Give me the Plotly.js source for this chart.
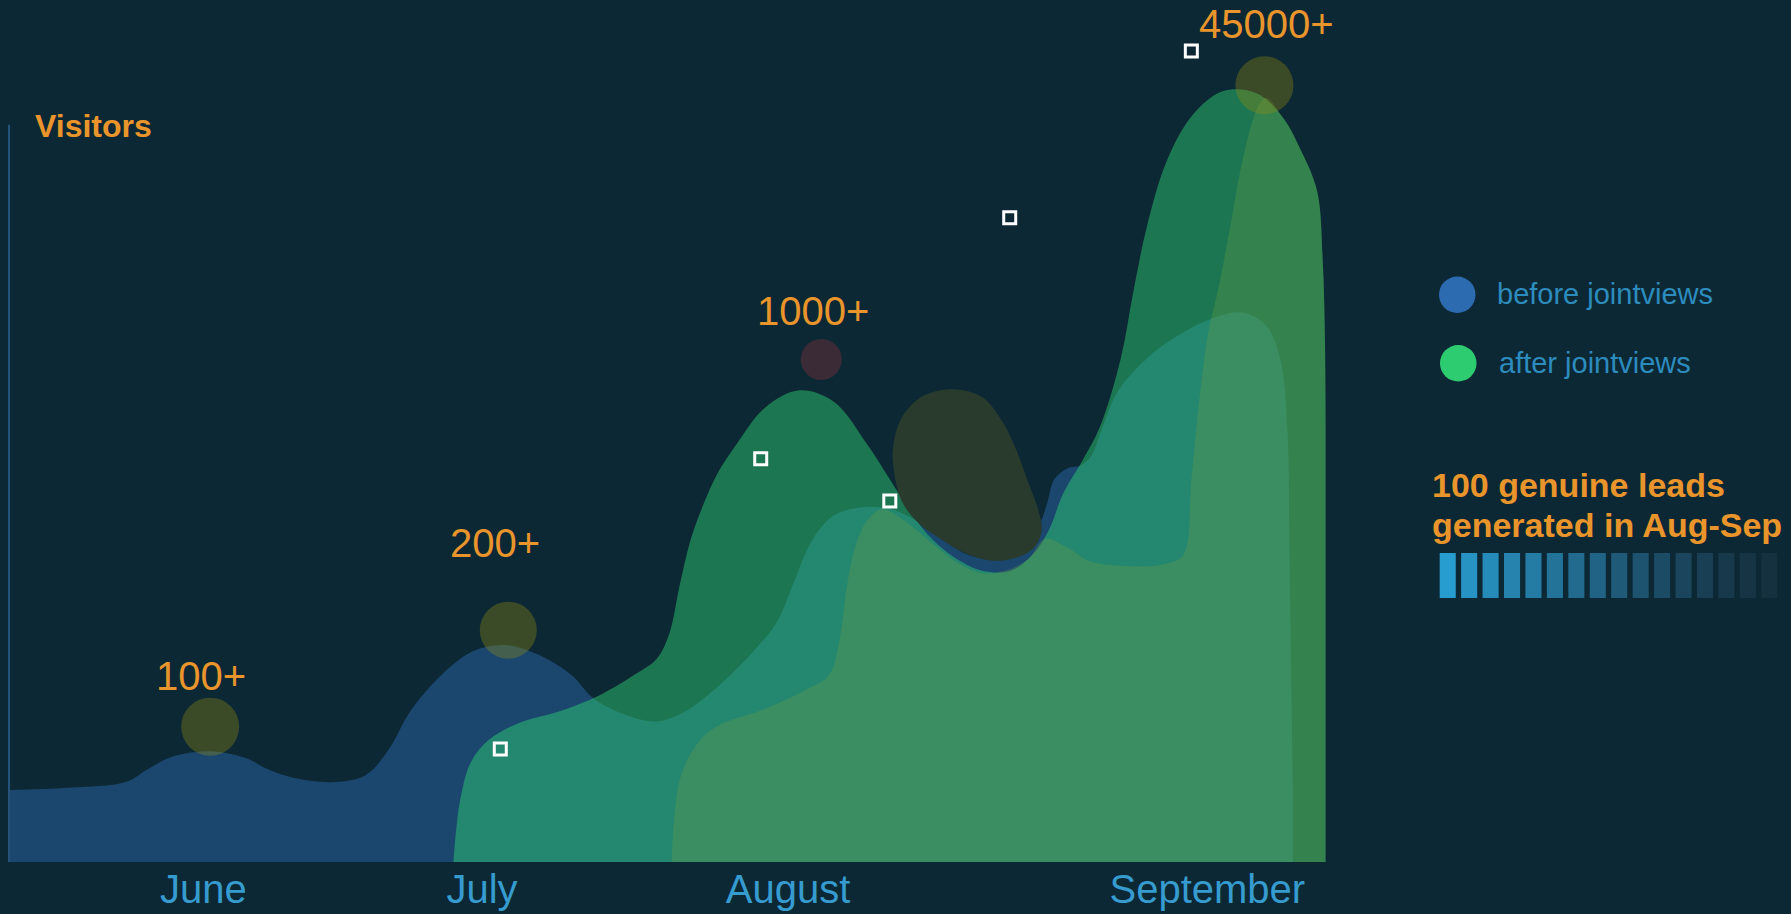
<!DOCTYPE html>
<html>
<head>
<meta charset="utf-8">
<script src="https://cdn.plot.ly/plotly-3.0.1.min.js"></script>
<style>
  html, body { margin: 0; padding: 0; background: #0c2834; }
  #chart { width: 1791px; height: 914px; }
</style>
</head>
<body>
<div id="chart"></div>
<script>
// ---------------- DATA (x = timeline units ~ days, y = relative visitor index) ----------------
const monthLabels = ['June', 'July', 'August', 'September'];
const monthTickX = [17.8, 42.2, 69.0, 105.7];

// "before jointviews" area
const beforeX = [0.7, 6.0, 11.0, 12.9, 15.0, 18.4, 21.5, 23.5, 26.0, 29.3, 32.0, 34.0, 36.0, 39.1, 41.5, 44.2, 47.0, 50.0, 52.0, 55.0, 57.5, 60.0, 63.0, 66.0, 68.0, 69.5, 71.0, 72.8, 75.0, 78.0, 81.0, 84.5, 86.5, 88.5, 90.0, 91.0, 91.7, 92.3, 93.5, 94.6, 95.5, 96.5, 97.8, 100.0, 102.2, 105.9, 108.8, 110.9, 112.1, 112.7, 112.9, 113.2];
const beforeY = [6.3, 6.5, 7.0, 8.1, 9.2, 9.7, 9.1, 8.1, 7.3, 7.0, 7.6, 9.8, 13.3, 16.8, 18.5, 19.0, 18.2, 16.4, 14.3, 12.8, 12.3, 13.2, 15.5, 18.5, 21.0, 24.5, 28.0, 30.2, 31.0, 30.9, 29.4, 27.0, 26.6, 26.9, 28.0, 29.5, 31.5, 33.5, 34.5, 34.7, 35.5, 38.0, 41.1, 43.7, 45.5, 47.5, 48.1, 46.9, 44.0, 38.1, 26.5, 5.5];

// "after jointviews" area
const afterX = [39.7, 39.9, 40.3, 41.2, 42.8, 45.5, 49.0, 52.5, 55.4, 57.5, 58.6, 59.5, 60.4, 61.3, 62.8, 64.5, 67.0, 70.0, 73.0, 75.9, 77.9, 79.5, 81.2, 83.5, 86.0, 88.5, 90.5, 91.8, 93.1, 94.8, 96.3, 98.1, 99.2, 100.4, 102.2, 104.5, 107.1, 110.0, 112.3, 113.8, 115.3, 115.8, 116.0, 116.05];
const afterY = [0, 2.5, 5.5, 8.7, 10.7, 12.2, 13.2, 14.6, 16.3, 17.8, 20.0, 24.2, 28.0, 30.6, 34.0, 36.6, 39.8, 41.3, 40.3, 36.6, 33.5, 31.0, 28.7, 26.7, 25.5, 25.5, 27.0, 29.0, 32.3, 35.2, 38.1, 44.0, 49.8, 55.6, 61.5, 65.5, 67.5, 67.3, 65.2, 62.5, 58.8, 52.7, 45.5, 38.0];

// lighter overlay area (Aug-Sep growth)
const overlayX = [58.8, 59.0, 59.6, 61.0, 62.8, 66.7, 70.6, 72.6, 73.5, 74.2, 75.0, 76.0, 77.2, 79.0, 81.5, 84.0, 86.0, 88.0, 90.0, 91.5, 93.5, 95.5, 99.0, 102.0, 103.6, 104.3, 105.0, 105.8, 106.6, 107.7, 108.8, 110.0, 110.8, 112.3, 113.8, 115.3, 115.8, 116.0, 116.05];
const overlayY = [0, 3.5, 7.5, 10.3, 11.9, 13.3, 15.1, 16.4, 19.5, 24.5, 28.0, 30.0, 30.9, 30.0, 28.0, 26.1, 25.3, 25.5, 26.5, 28.3, 27.5, 26.3, 25.9, 26.1, 26.9, 33.5, 40.5, 46.5, 49.9, 55.6, 61.5, 65.8, 66.9, 65.2, 62.5, 58.8, 52.7, 45.5, 38.0];

// dark dip blob between August and September
const dipX = [83.4, 86.0, 87.8, 89.0, 90.0, 90.9, 91.2, 90.5, 88.8, 86.7, 84.6, 82.5, 80.5, 79.0, 78.3, 78.2, 79.0, 80.8, 83.4];
const dipY = [41.4, 40.7, 38.5, 36.0, 33.3, 30.8, 29.0, 27.5, 26.6, 26.4, 27.0, 28.2, 29.6, 31.5, 34.0, 36.4, 39.0, 40.8, 41.4];

// peak highlights and labels
const peakLabels = ['100+', '200+', '1000+', '45000+'];
const peakLabelX = [17.6, 43.3, 71.2, 110.9];
const peakLabelY = [16.3, 27.9, 48.2, 73.4];
const peakCircleX = [18.4, 44.5, 71.9, 110.7];
const peakCircleY = [11.85, 20.3, 44.0, 68.0];
const peakCircleSize = [58, 57, 41, 58];

// small hollow square markers
const squareX = [43.8, 66.6, 77.9, 88.4, 104.3];
const squareY = [9.9, 35.3, 31.6, 56.4, 71.0];

// leads indicator blocks
const leadBlocks = [1, 2, 3, 4, 5, 6, 7, 8, 9, 10, 11, 12, 13, 14, 15, 16];
const leadValues = [1, 1, 1, 1, 1, 1, 1, 1, 1, 1, 1, 1, 1, 1, 1, 1];
const leadColors = ['#279cce', '#2693c3', '#258bb9', '#2583ae', '#247ba3', '#237398', '#226b8e', '#216384', '#1f5b79', '#1d536f', '#1c4b65', '#1a455c', '#183f53', '#17394b', '#163444', '#15303e'];

// ---------------- STYLE ----------------
const BG = '#0c2834';
const ORANGE = '#e9952b';
const FONT = 'Liberation Sans, Arial, sans-serif';
const W = 1791, H = 914, PB = 52, PH = H - PB;
const px = v => v / W;
const py = v => (PH - v) / PH;

const traces = [
  { x: beforeX, y: beforeY, type: 'scatter', mode: 'lines', name: 'before jointviews',
    line: { shape: 'spline', smoothing: 1, width: 0, color: 'rgba(0,0,0,0)' },
    fill: 'tozeroy', fillcolor: 'rgba(45,107,176,0.47)', hoverinfo: 'skip', showlegend: false },
  { x: afterX, y: afterY, type: 'scatter', mode: 'lines', name: 'after jointviews',
    line: { shape: 'spline', smoothing: 1, width: 0, color: 'rgba(0,0,0,0)' },
    fill: 'tozeroy', fillcolor: 'rgba(46,204,113,0.48)', hoverinfo: 'skip', showlegend: false },
  { x: overlayX, y: overlayY, type: 'scatter', mode: 'lines', name: 'overlay',
    line: { shape: 'spline', smoothing: 1, width: 0, color: 'rgba(0,0,0,0)' },
    fill: 'tozeroy', fillcolor: 'rgba(110,160,70,0.30)', hoverinfo: 'skip', showlegend: false },
  { x: dipX, y: dipY, type: 'scatter', mode: 'lines', name: 'dip',
    line: { shape: 'spline', smoothing: 1, width: 0, color: 'rgba(0,0,0,0)' },
    fill: 'toself', fillcolor: 'rgb(40,59,45)', hoverinfo: 'skip', showlegend: false },
  { x: peakCircleX, y: peakCircleY, type: 'scatter', mode: 'markers', name: 'peaks',
    marker: { size: peakCircleSize, color: ['rgba(150,140,20,0.5)', 'rgba(150,140,20,0.5)', 'rgba(150,50,60,0.5)', 'rgba(150,140,20,0.5)'], line: { width: 0 } },
    hoverinfo: 'skip', showlegend: false, cliponaxis: false },
  { x: squareX, y: squareY, type: 'scatter', mode: 'markers', name: 'points',
    marker: { symbol: 'square-open', size: 12, color: '#ffffff', line: { width: 3 } },
    hoverinfo: 'skip', showlegend: false, cliponaxis: false },
  { x: leadBlocks, y: leadValues, type: 'bar', xaxis: 'x2', yaxis: 'y2', name: 'leads',
    marker: { color: leadColors, line: { width: 0 } }, hoverinfo: 'skip', showlegend: false }
];

const annotations = [
  { text: '<b>Visitors</b>', xref: 'paper', yref: 'paper', x: px(33), y: py(126.5), xanchor: 'left', yanchor: 'middle',
    showarrow: false, font: { family: FONT, size: 32, color: ORANGE } },
  { text: 'before jointviews', xref: 'paper', yref: 'paper', x: px(1495), y: py(294), xanchor: 'left', yanchor: 'middle',
    showarrow: false, font: { family: FONT, size: 29, color: '#2d8cbe' } },
  { text: 'after jointviews', xref: 'paper', yref: 'paper', x: px(1497), y: py(363), xanchor: 'left', yanchor: 'middle',
    showarrow: false, font: { family: FONT, size: 29, color: '#2d8cbe' } },
  { text: '<b>100 genuine leads</b>', xref: 'paper', yref: 'paper', x: px(1430), y: py(485), xanchor: 'left', yanchor: 'middle',
    showarrow: false, font: { family: FONT, size: 34, color: ORANGE } },
  { text: '<b>generated in Aug-Sep</b>', xref: 'paper', yref: 'paper', x: px(1430), y: py(525), xanchor: 'left', yanchor: 'middle',
    showarrow: false, font: { family: FONT, size: 34, color: ORANGE } }
];
peakLabels.forEach((t, i) => annotations.push({
  text: t, x: peakLabelX[i], y: peakLabelY[i], xref: 'x', yref: 'y', xanchor: 'center', yanchor: 'middle',
  showarrow: false, font: { family: FONT, size: 40, color: ORANGE }
}));

const shapes = [
  { type: 'line', xref: 'x', yref: 'y', x0: 0.75, x1: 0.75, y0: 0, y1: 64.55, line: { color: '#24527a', width: 3 } },
  { type: 'circle', xref: 'paper', yref: 'paper', x0: px(1439), x1: px(1475.5), y0: py(313), y1: py(276.5),
    fillcolor: '#2d6bb0', line: { width: 0 } },
  { type: 'circle', xref: 'paper', yref: 'paper', x0: px(1440), x1: px(1476.5), y0: py(381.5), y1: py(345),
    fillcolor: '#2ecc71', line: { width: 0 } }
];

const layout = {
  width: W, height: H,
  paper_bgcolor: BG, plot_bgcolor: BG,
  margin: { l: 0, r: 0, t: 0, b: PB, pad: 0 },
  showlegend: false,
  bargap: 0.25,
  xaxis: {
    domain: [px(8), px(1330)], range: [0.7, 116.44], automargin: false,
    tickmode: 'array', tickvals: monthTickX, ticktext: monthLabels, ticks: '',
    tickfont: { family: FONT, size: 40, color: '#369bcf' }, ticklabelstandoff: 0,
    showgrid: false, zeroline: false, showline: false, fixedrange: true
  },
  yaxis: { domain: [0, 1], range: [0, 75.47], visible: false, showgrid: false, zeroline: false, fixedrange: true },
  xaxis2: { domain: [px(1437), px(1780)], range: [0.5, 16.5], anchor: 'y2', visible: false, fixedrange: true },
  yaxis2: { domain: [(PH - 598) / PH, (PH - 553) / PH], range: [0, 1], anchor: 'x2', visible: false, fixedrange: true },
  annotations: annotations,
  shapes: shapes,
  hovermode: false
};

Plotly.newPlot('chart', traces, layout, { displayModeBar: false, staticPlot: true, responsive: false });
</script>
</body>
</html>
